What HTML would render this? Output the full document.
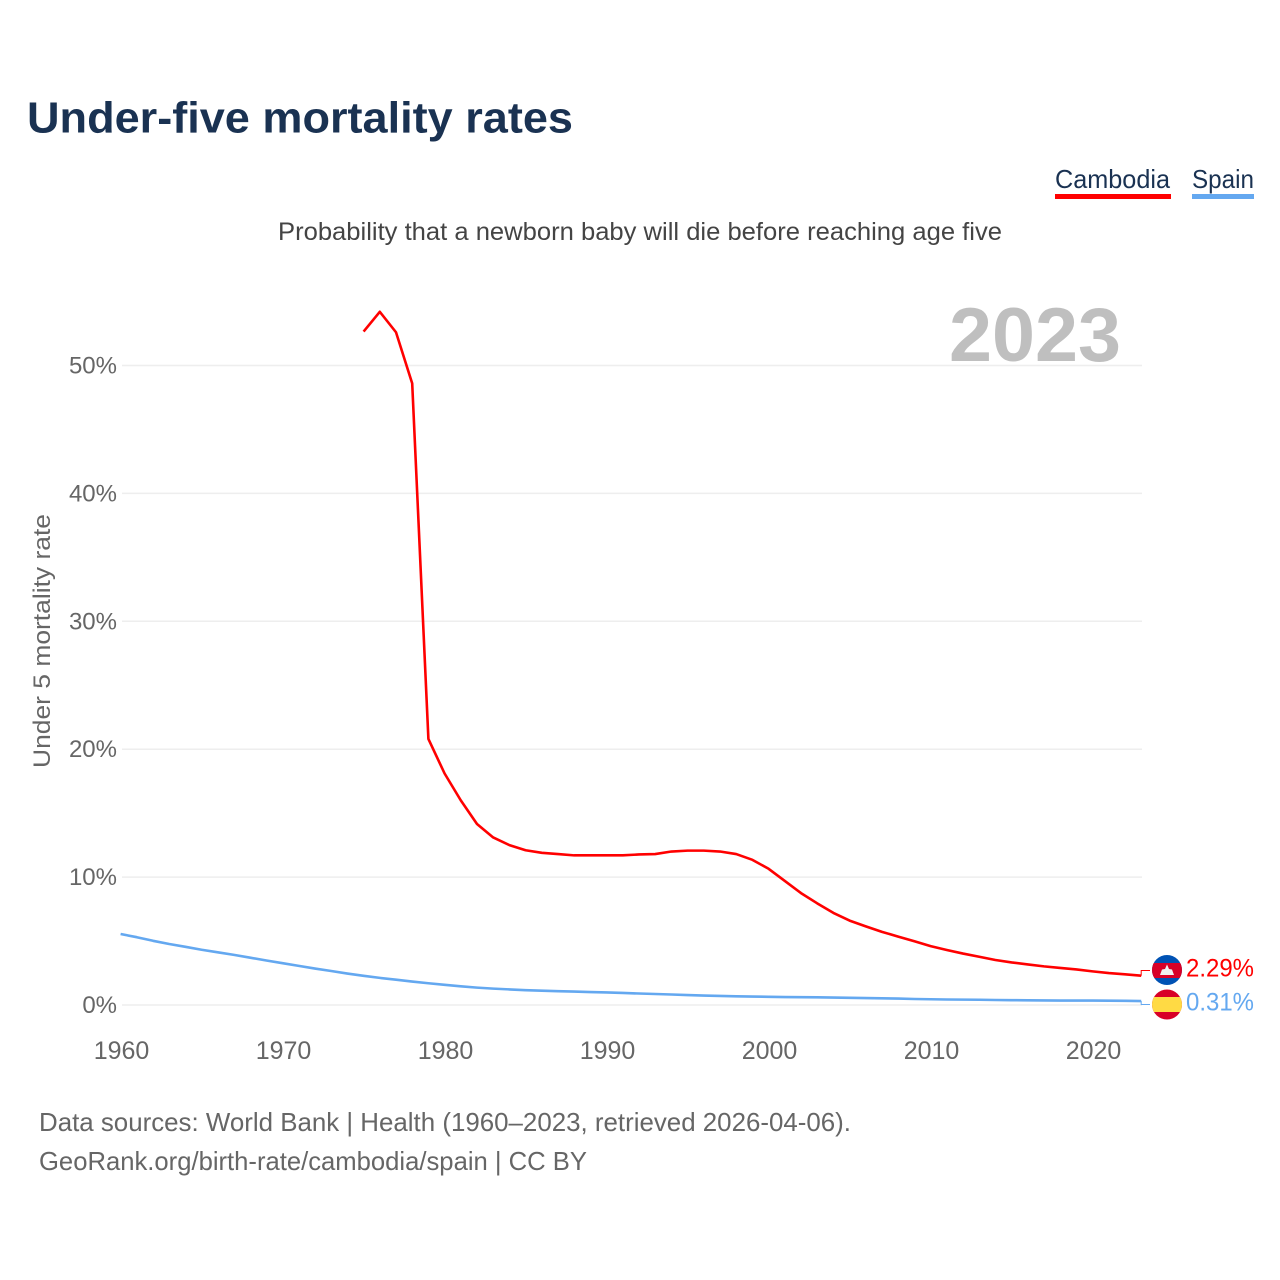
<!DOCTYPE html>
<html lang="en">
<head>
<meta charset="utf-8">
<title>Under-five mortality rates</title>
<style>
html,body{margin:0;padding:0;background:#fff;width:1280px;height:1280px;overflow:hidden}
svg{display:block}
text{font-family:"Liberation Sans",Arial,sans-serif}
</style>
</head>
<body>
<svg id="chart" xmlns="http://www.w3.org/2000/svg" width="1280" height="1280" viewBox="0 0 1280 1280">
  <rect width="1280" height="1280" fill="#fff"/>
  <text x="27" y="132.5" font-size="44" font-weight="700" fill="#1a3252" textLength="546" lengthAdjust="spacingAndGlyphs">Under-five mortality rates</text>
  <text x="1055" y="188" font-size="26" fill="#1a3252" textLength="115" lengthAdjust="spacingAndGlyphs">Cambodia</text>
  <rect x="1055" y="194" width="116" height="5" fill="#ff0000"/>
  <text x="1192" y="188" font-size="26" fill="#1a3252" textLength="62" lengthAdjust="spacingAndGlyphs">Spain</text>
  <rect x="1192" y="194" width="62" height="5" fill="#64a8f0"/>
  <text x="278" y="240" font-size="25" fill="#444" textLength="724" lengthAdjust="spacingAndGlyphs">Probability that a newborn baby will die before reaching age five</text>
  <text x="949" y="361" font-size="76" font-weight="700" fill="#bfbfbf" textLength="172" lengthAdjust="spacingAndGlyphs">2023</text>
  <text transform="translate(50,768) rotate(-90)" x="0" y="0" font-size="24" fill="#666" textLength="254" lengthAdjust="spacingAndGlyphs">Under 5 mortality rate</text>
  <g id="grid"></g>
  <g id="yticks"></g>
  <g id="xticks"></g>
  <g id="series"></g>

  <g>
    <clipPath id="clip-kh"><circle cx="1167" cy="970" r="15"/></clipPath>
    <g clip-path="url(#clip-kh)">
      <rect x="1152" y="955" width="30" height="30" fill="#0052b4"/>
      <rect x="1152" y="963" width="30" height="15" fill="#d80027"/>
      <polygon points="1160,975 1162,969.5 1165,969 1167,964.5 1169,969 1172,969.5 1174,975" fill="#f0f0f0"/>
    </g>
  </g>
  <g>
    <clipPath id="clip-es"><circle cx="1167" cy="1004.5" r="15"/></clipPath>
    <g clip-path="url(#clip-es)">
      <rect x="1152" y="989" width="30" height="31" fill="#d80027"/>
      <rect x="1152" y="997" width="30" height="15" fill="#ffda44"/>
    </g>
  </g>
  <text x="1186" y="976.5" font-size="25" fill="#ff0000" textLength="68" lengthAdjust="spacingAndGlyphs">2.29%</text>
  <text x="1186" y="1010.5" font-size="25" fill="#64a8f0" textLength="68" lengthAdjust="spacingAndGlyphs">0.31%</text>

  <text x="39" y="1131" font-size="26" fill="#666" textLength="812" lengthAdjust="spacingAndGlyphs">Data sources: World Bank | Health (1960–2023, retrieved 2026-04-06).</text>
  <text x="39" y="1170" font-size="26" fill="#666" textLength="548" lengthAdjust="spacingAndGlyphs">GeoRank.org/birth-rate/cambodia/spain | CC BY</text>
</svg>
<script>
const yTickValues = [0, 10, 20, 30, 40, 50];
const yTickLabels = ["0%", "10%", "20%", "30%", "40%", "50%"];
const xTickValues = [1960, 1970, 1980, 1990, 2000, 2010, 2020];
const xTickLabels = ["1960", "1970", "1980", "1990", "2000", "2010", "2020"];

const cambodiaYears = [1975,1976,1977,1978,1979,1980,1981,1982,1983,1984,1985,1986,1987,1988,1989,1990,1991,1992,1993,1994,1995,1996,1997,1998,1999,2000,2001,2002,2003,2004,2005,2006,2007,2008,2009,2010,2011,2012,2013,2014,2015,2016,2017,2018,2019,2020,2021,2022,2023];
const cambodiaValues = [52.65,54.2,52.6,48.6,20.8,18.1,16.0,14.15,13.1,12.5,12.1,11.9,11.8,11.7,11.7,11.7,11.7,11.77,11.8,12.0,12.07,12.07,12.0,11.8,11.35,10.65,9.7,8.75,7.95,7.2,6.6,6.15,5.72,5.35,4.98,4.6,4.3,4.02,3.77,3.52,3.33,3.17,3.02,2.9,2.78,2.63,2.5,2.4,2.29];

const spainYears = [1960,1961,1962,1963,1964,1965,1966,1967,1968,1969,1970,1971,1972,1973,1974,1975,1976,1977,1978,1979,1980,1981,1982,1983,1984,1985,1986,1987,1988,1989,1990,1991,1992,1993,1994,1995,1996,1997,1998,1999,2000,2001,2002,2003,2004,2005,2006,2007,2008,2009,2010,2011,2012,2013,2014,2015,2016,2017,2018,2019,2020,2021,2022,2023];
const spainValues = [5.55,5.3,5.02,4.77,4.55,4.32,4.12,3.92,3.7,3.48,3.27,3.06,2.85,2.66,2.46,2.28,2.12,1.98,1.83,1.7,1.58,1.46,1.36,1.28,1.22,1.16,1.12,1.08,1.05,1.01,0.98,0.94,0.9,0.86,0.82,0.78,0.74,0.71,0.68,0.66,0.64,0.62,0.61,0.6,0.58,0.56,0.54,0.52,0.5,0.47,0.45,0.43,0.42,0.41,0.39,0.38,0.37,0.36,0.35,0.35,0.35,0.34,0.33,0.31];

const NS = "http://www.w3.org/2000/svg";
function xScale(year) { return 120.6 + (year - 1960) * 16.2; }
function yScale(value) { return 1005 - value * 12.79; }

const gridGroup = document.getElementById("grid");
const yTickGroup = document.getElementById("yticks");
const xTickGroup = document.getElementById("xticks");
const seriesGroup = document.getElementById("series");

yTickValues.forEach(function (v, i) {
  const line = document.createElementNS(NS, "line");
  
  
  line.setAttribute("x1", 122);
  line.setAttribute("x2", 1142);
  line.setAttribute("y1", yScale(v));
  line.setAttribute("y2", yScale(v));
  line.setAttribute("stroke", "#eeeeee");
  line.setAttribute("stroke-width", 1.5);
  gridGroup.appendChild(line);

  const label = document.createElementNS(NS, "text");
  
  
  label.setAttribute("x", 117);
  label.setAttribute("y", yScale(v) + 8);
  label.setAttribute("text-anchor", "end");
  label.setAttribute("font-size", 24);
  label.setAttribute("fill", "#666");
  label.textContent = yTickLabels[i];
  yTickGroup.appendChild(label);
});

xTickValues.forEach(function (v, i) {
  const label = document.createElementNS(NS, "text");
  
  
  label.setAttribute("x", xScale(v) + 0.9);
  label.setAttribute("y", 1059);
  label.setAttribute("text-anchor", "middle");
  label.setAttribute("font-size", 25);
  label.setAttribute("fill", "#666");
  label.textContent = xTickLabels[i];
  xTickGroup.appendChild(label);
});

function drawSeries(years, values, color, name) {
  const d = years.map(function (y, i) {
    return (i ? "L" : "M") + xScale(y).toFixed(2) + " " + yScale(values[i]).toFixed(2);
  }).join(" ");
  const path = document.createElementNS(NS, "path");
  
  
  path.setAttribute("d", d);
  path.setAttribute("fill", "none");
  path.setAttribute("stroke", color);
  path.setAttribute("stroke-width", 2.6);
  path.setAttribute("stroke-linejoin", "round");
  seriesGroup.appendChild(path);
}

function drawConnector(value, labelY, color, name) {
  const x0 = xScale(2023);
  const y0 = yScale(value);
  const connector = document.createElementNS(NS, "path");
  
  
  connector.setAttribute("d", "M" + x0 + " " + y0 + " V" + labelY + " H1150");
  connector.setAttribute("fill", "none");
  connector.setAttribute("stroke", color);
  connector.setAttribute("stroke-width", 1);
  seriesGroup.appendChild(connector);
}

drawSeries(spainYears, spainValues, "#64a8f0", "series-line-spain");
drawSeries(cambodiaYears, cambodiaValues, "#ff0000", "series-line-cambodia");
drawConnector(spainValues[spainValues.length - 1], 1004.5, "#64a8f0", "connector-spain");
drawConnector(cambodiaValues[cambodiaValues.length - 1], 970.5, "#ff0000", "connector-cambodia");
</script>
</body>
</html>
